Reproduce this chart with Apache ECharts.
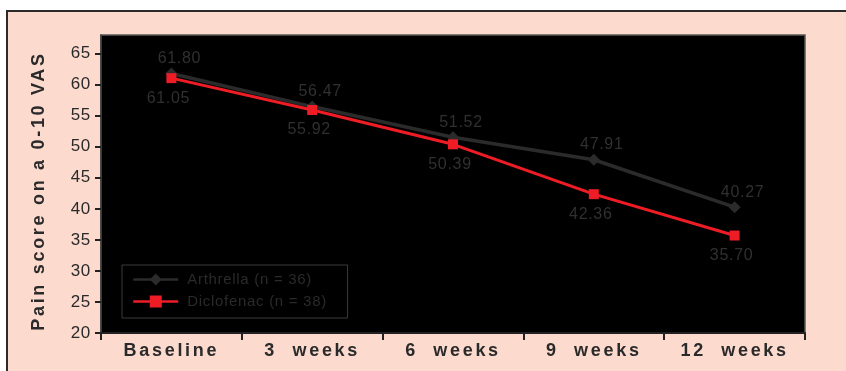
<!DOCTYPE html>
<html>
<head>
<meta charset="utf-8">
<title>Pain score on a 0-10 VAS</title>
<script src="https://cdn.jsdelivr.net/npm/echarts@6/dist/echarts.min.js"></script>
<style>
  html, body { margin: 0; padding: 0; background: #ffffff; }
  #chart { width: 846px; height: 371px; }
</style>
</head>
<body>
<div id="chart"></div>
<script>
// Visit time points
const categories = ['Baseline', '3  weeks', '6  weeks', '9  weeks', '12  weeks'];

// Mean pain score (0-10 VAS, x10) per group
const arthrella = [61.80, 56.47, 51.52, 47.91, 40.27];
const diclofenac = [61.05, 55.92, 50.39, 42.36, 35.70];

// Series names shown in the legend
const seriesNames = ['Arthrella (n = 36)', 'Diclofenac (n = 38)'];

// Y axis tick values
const yTicks = [20, 25, 30, 35, 40, 45, 50, 55, 60, 65];

// Slightly tracked lettering: wide for bold captions, light for the rest
(function () {
  const proto = CanvasRenderingContext2D.prototype;
  if (!('letterSpacing' in proto)) return;
  const fillText = proto.fillText;
  proto.fillText = function () {
    const bold = /bold|700/.test(this.font);
    this.letterSpacing = bold ? '2.7px' : '0.7px';
    return fillText.apply(this, arguments);
  };
})();

const FONT = '"Liberation Sans", Arial, Helvetica, sans-serif';
const INK = '#2a2a2a';

const chart = echarts.init(document.getElementById('chart'), null, { renderer: 'canvas' });

chart.setOption({
  backgroundColor: '#ffffff',
  animation: false,
  textStyle: { fontFamily: FONT },
  graphic: [{
    type: 'rect',
    z: -10,
    silent: true,
    shape: { x: 7, y: 11, width: 860, height: 380 },
    style: { fill: '#FCDBCE', stroke: '#2b2b2b', lineWidth: 2 }
  }],
  grid: {
    left: 101, top: 35, right: 41, bottom: 38,
    show: true,
    backgroundColor: '#000000',
    borderColor: '#5a5a5a',
    borderWidth: 1.5
  },
  legend: {
    orient: 'vertical',
    left: 122, top: 265,
    padding: [7, 34, 9, 10],
    itemGap: 7,
    itemWidth: 45,
    itemHeight: 15,
    borderColor: '#3a3a3a',
    borderWidth: 1,
    data: seriesNames,
    lineStyle: { width: 2.5 },
    textStyle: { color: INK, fontSize: 15, fontFamily: FONT, padding: [0, 0, 0, 4] }
  },
  xAxis: {
    type: 'category',
    data: categories,
    boundaryGap: true,
    axisLine: { show: true, lineStyle: { color: '#222222', width: 2 } },
    axisTick: { show: true, inside: false, length: 7, lineStyle: { color: '#222222', width: 2 } },
    axisLabel: {
      color: INK, fontSize: 18, fontWeight: 'bold', fontFamily: FONT, margin: 9
    },
    splitLine: { show: false }
  },
  yAxis: {
    type: 'value',
    min: 20, max: 68, interval: 5,
    name: 'Pain score on a 0-10 VAS',
    nameLocation: 'middle',
    nameRotate: 90,
    nameGap: 53,
    nameTextStyle: {
      color: INK, fontSize: 18, fontWeight: 'bold', fontFamily: FONT,
      padding: [0, 14, 0, 0]
    },
    axisLine: { show: true, lineStyle: { color: '#3a3a3a', width: 1.5 } },
    axisTick: { show: true, inside: false, length: 6, customValues: yTicks, lineStyle: { color: '#222222', width: 2 } },
    axisLabel: { color: INK, fontSize: 17, fontFamily: FONT, margin: 10, customValues: yTicks },
    splitLine: { show: false }
  },
  series: [
    {
      name: seriesNames[0],
      type: 'line',
      data: arthrella,
      symbol: 'diamond',
      symbolSize: 12,
      itemStyle: { color: '#2b2b2b' },
      lineStyle: { color: '#2b2b2b', width: 3.5 },
      z: 2,
      label: {
        show: true, position: 'top', distance: 1, offset: [8, 0],
        color: '#303030', fontSize: 16, fontFamily: FONT,
        formatter: p => p.value.toFixed(2)
      }
    },
    {
      name: seriesNames[1],
      type: 'line',
      data: diclofenac,
      symbol: 'rect',
      symbolSize: 10,
      itemStyle: { color: '#ee1c25' },
      lineStyle: { color: '#ee1c25', width: 3 },
      z: 3,
      label: {
        show: true, position: 'bottom', distance: 7, offset: [-3, 0],
        color: '#303030', fontSize: 16, fontFamily: FONT,
        formatter: p => p.value.toFixed(2)
      }
    }
  ]
});
</script>
</body>
</html>
